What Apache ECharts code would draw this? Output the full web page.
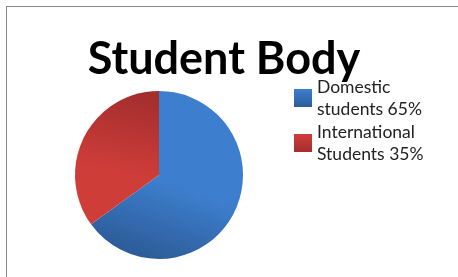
<!DOCTYPE html>
<html>
<head>
<meta charset="utf-8">
<title>Student Body</title>
<script src="https://cdn.jsdelivr.net/npm/echarts@6/dist/echarts.min.js"></script>
<style>
  html, body { margin: 0; padding: 0; background: #fff; }
  #frame { position: absolute; left: 6px; top: 6px; width: 460px; height: 280px;
           border-top: 1.5px solid #8a8a8a; border-left: 1.5px solid #8a8a8a; }
  #main { position: absolute; left: 0; top: 0; width: 458px; height: 277px; }
</style>
</head>
<body>
<div id="frame"></div>
<div id="main"></div>
<script>
// data
var names = ['Domestic\nstudents 65%', 'International\nStudents 35%'];
var values = [65, 35];
var lightColors = ['#3d7fce', '#cf3d39'];
var darkColors = ['#2d5c99', '#a32e2e'];

var chart = echarts.init(document.getElementById('main'));

var sliceStyles = [
  // blue: lighter up top, darker toward bottom-left
  new echarts.graphic.LinearGradient(0.7, 0.2, 0.4, 1, [
    {offset: 0, color: lightColors[0]}, {offset: 0.45, color: lightColors[0]}, {offset: 1, color: darkColors[0]}
  ]),
  // red: darker at the top
  new echarts.graphic.LinearGradient(0.6, 0, 0.4, 0.6, [
    {offset: 0, color: darkColors[1]}, {offset: 1, color: lightColors[1]}
  ])
];

var legendIcons = [
  new echarts.graphic.LinearGradient(0, 0, 0, 1, [{offset: 0, color: lightColors[0]}, {offset: 1, color: darkColors[0]}]),
  new echarts.graphic.LinearGradient(0, 0, 0, 1, [{offset: 0, color: lightColors[1]}, {offset: 1, color: darkColors[1]}])
];

var data = names.map(function (n, i) {
  return {name: n, value: values[i], itemStyle: {color: sliceStyles[i]}};
});

chart.setOption({
  animation: false,
  title: {
    text: 'Student Body',
    left: 219, top: 32, textAlign: 'center',
    textStyle: {fontFamily: 'Lato', fontWeight: 'bold', fontSize: 45, color: '#000'}
  },
  legend: {
    orient: 'vertical',
    left: 289, top: 71,
    itemWidth: 18, itemHeight: 18,
    itemGap: 1,
    icon: 'rect',
    data: names.map(function (n, i) {
      return {name: n, itemStyle: {color: legendIcons[i], borderWidth: 0}};
    }),
    textStyle: {fontFamily: 'Lato', fontSize: 17.5, color: '#222', lineHeight: 22},
    selectedMode: false
  },
  series: [{
    type: 'pie',
    center: [159, 175],
    radius: 84,
    startAngle: 90,
    clockwise: true,
    label: {show: false},
    labelLine: {show: false},
    emphasis: {disabled: true},
    itemStyle: {borderWidth: 0},
    data: data
  }]
});
</script>
</body>
</html>
